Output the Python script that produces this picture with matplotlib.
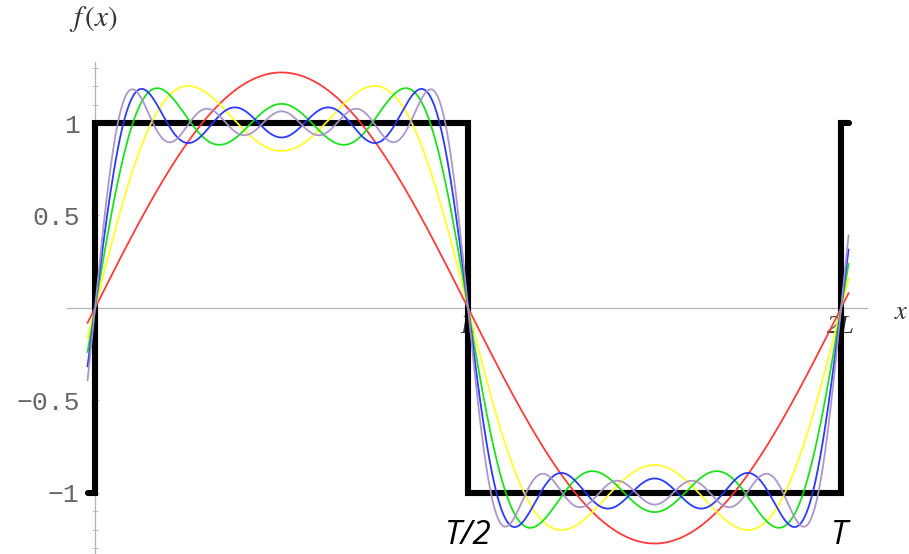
import numpy as np
import matplotlib
matplotlib.use("Agg")
import matplotlib.pyplot as plt
from matplotlib.ticker import FixedLocator

# partial sums of the square wave Fourier series (odd harmonics kept)
harmonic_orders = [1, 3, 5, 7, 9]
series_colors = ['#ff3030', '#ffff20', '#10e010', '#2030ff', '#a890c8']

# square wave: levels between the edges (x in units of L)
square_edges = [-0.02, 0, 1, 2, 2.02]
square_levels = [-1, 1, -1, 1]

y_ticks = [-1, -0.5, 0.5, 1]
y_ticklabels = ['\u22121', '\u22120.5', '0.5', '1']
x_ticks = [1, 2]
x_ticklabels = ['L', '2L']

fig = plt.figure(figsize=(9.09, 5.54), dpi=100)
ax = fig.add_axes([0, 0, 1, 1])
ax.set_xlim(-0.2547, 2.182)
ax.set_ylim(-1.330, 1.665)

# axes through the origin, light grey like the original
for side in ['top', 'right']:
    ax.spines[side].set_visible(False)
ax.spines['left'].set_position(('data', 0))
ax.spines['bottom'].set_position(('data', 0))
ax.spines['left'].set_bounds(-1.33, 1.33)
ax.spines['bottom'].set_bounds(-0.075, 2.07)
for side in ['left', 'bottom']:
    ax.spines[side].set_color('#b4b4b4')
    ax.spines[side].set_linewidth(0.9)
    ax.spines[side].set_zorder(0)

ax.yaxis.set_major_locator(FixedLocator(y_ticks))
ax.set_yticklabels(y_ticklabels, family='Liberation Mono', fontsize=19, color='#666666')
ax.yaxis.set_minor_locator(FixedLocator([-1.3, -1.2, -1.1, 1.1, 1.2, 1.3]))
ax.tick_params(axis='y', which='both', direction='inout', color='#b4b4b4', pad=8)
ax.tick_params(axis='y', which='major', length=6)
ax.tick_params(axis='y', which='minor', length=4)

ax.xaxis.set_major_locator(FixedLocator(x_ticks))
ax.set_xticklabels(x_ticklabels, family='Liberation Serif', style='italic', fontsize=19, color='#333333')
ax.tick_params(axis='x', length=0, pad=6)
for lbl in ax.get_xticklabels():
    lbl.set_zorder(0)

# square wave
ax.stairs(square_levels, square_edges, baseline=None, color='black', linewidth=4.4,
          joinstyle='miter', capstyle='round', zorder=2)

# Fourier partial sums
x = np.linspace(square_edges[0], square_edges[-1], 1500)
for k, col in enumerate(series_colors):
    y = np.zeros_like(x)
    for n in harmonic_orders[:k + 1]:
        y += 4 / np.pi * np.sin(n * np.pi * x) / n
    ax.plot(x, y, color=col, linewidth=1.3, alpha=0.95, zorder=3)

ax.text(-0.07, 1.56, '$f\\,(x)$', fontsize=21, color='#333333', ha='left', va='center',
        family='Liberation Serif', math_fontfamily='stix')
ax.text(2.16, -0.02, '$x$', fontsize=19, color='#333333', ha='center', va='center',
        math_fontfamily='stix')

ax.text(1.0, -1.23, 'T/2', fontsize=24, style='italic', family='Open Sans',
        ha='center', va='center')
ax.text(1.995, -1.23, 'T', fontsize=24, style='italic', family='Open Sans',
        ha='center', va='center')

fig.savefig('out.png', dpi=100)
